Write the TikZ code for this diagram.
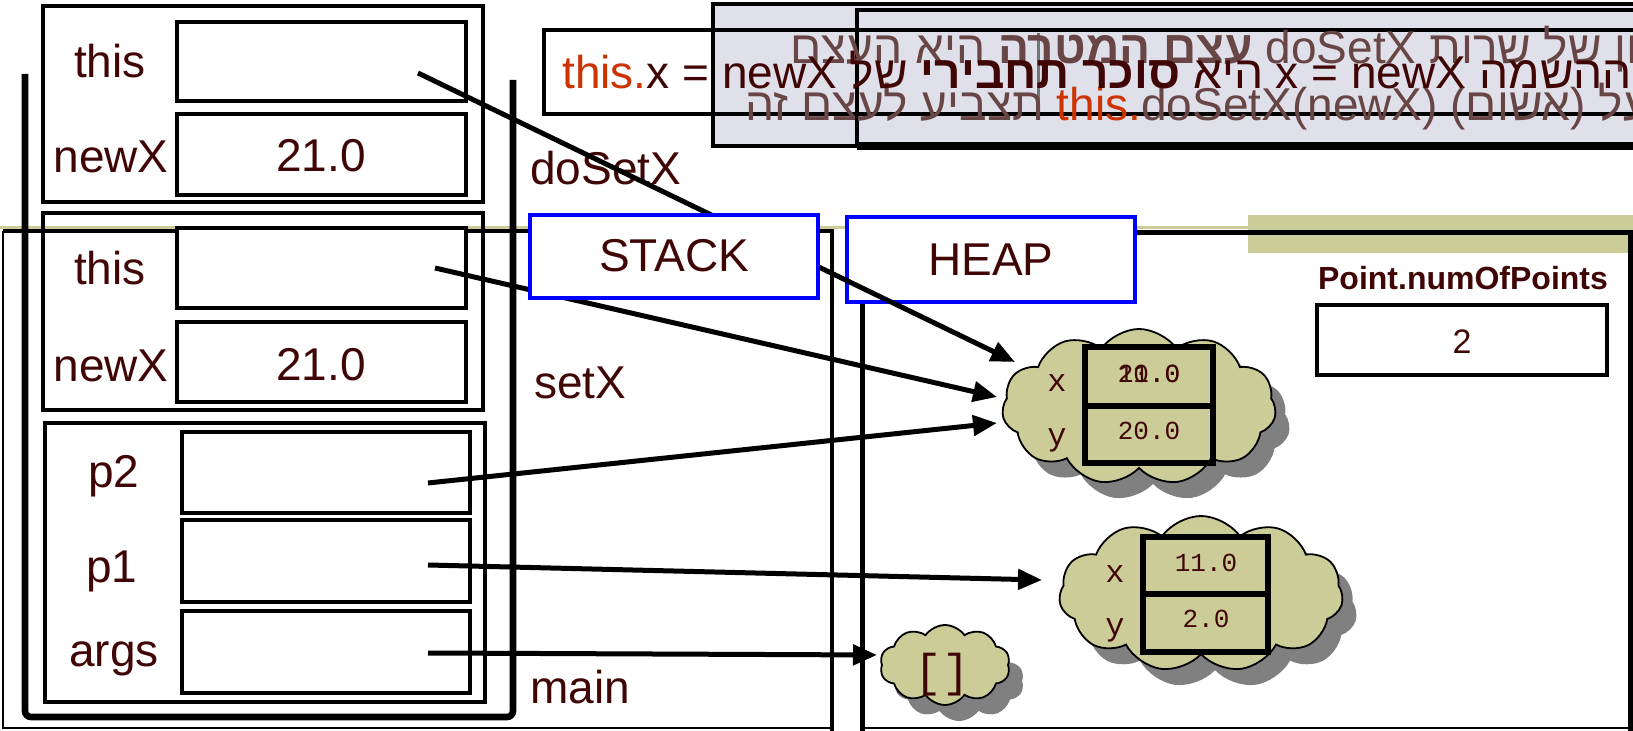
\documentclass[tikz,border=0pt]{standalone}
\usepackage{fontspec}
\setmainfont{Liberation Sans}
\newfontfamily\hebfont[Script=Hebrew]{Liberation Sans}
\newfontfamily\monofont{Liberation Mono}
\usetikzlibrary{shapes.symbols,arrows.meta,shadows}
\TeXXeTstate=1
\definecolor{txt}{RGB}{64,6,6}
\definecolor{fadetxt}{RGB}{105,70,70}
\definecolor{thisor}{RGB}{204,51,0}
\definecolor{lav}{RGB}{224,224,234}
\definecolor{olive0}{RGB}{204,204,153}
\definecolor{blue0}{RGB}{0,0,255}
\tikzset{
  lbl/.style={text=txt, font=\fontsize{23}{27}\selectfont, inner sep=0pt, anchor=base},
  vbox/.style={draw=black, line width=2pt, fill=white},
  frm/.style={draw=black, line width=1.6pt},
  ptr/.style={draw=black, line width=2.5pt, -{Triangle[length=12pt,width=10pt]}},
  titlebox/.style={draw=blue0, line width=2pt, fill=white},
  cloudst/.style={cloud, cloud puffs=11, cloud puff arc=110, aspect=1.8, draw=black, line width=0.9pt, fill=olive0, inner sep=0pt,
    drop shadow={shadow xshift=7pt, shadow yshift=-8pt, fill=black!50, opacity=1}},
  monolbl/.style={text=txt, font=\monofont\fontsize{16}{18}\selectfont, inner sep=0pt, anchor=base},
  monoval/.style={text=txt, font=\monofont\fontsize{13}{15}\selectfont, inner sep=0pt, anchor=base},
  toptext/.style={font=\hebfont\fontsize{23}{27}\selectfont, inner sep=0pt},
  tbl/.style={draw=black, line width=3pt},
}
\begin{document}
\begin{tikzpicture}[x=0.5pt,y=-0.5pt]
\clip (0,0) rectangle (1633,731);
\fill[white] (0,0) rectangle (1633,731);

% decorative olive line and band
\draw[olive0, line width=1.5pt] (0,228) -- (1633,228);
\fill[olive0] (1248,215) rectangle (1633,253);

% top callout boxes
\fill[white] (544,30) rectangle (713,114);
\draw[fill=lav, draw=black, line width=2pt] (713,4) rectangle (1660,146);
\draw[fill=lav, draw=black, line width=2pt] (857,10) rectangle (1660,146);
\draw[line width=4pt] (857,146) -- (1660,146);
\draw[line width=2pt] (544,30) rectangle (1660,114);
\draw[line width=1.5pt, draw=black!55] (1038,33) -- (1038,112);

\node[toptext, text=fadetxt, anchor=base west] (hl1) at (790,64)
  {\beginR בזימון של שרות \beginL doSetX\endL{} \textbf{עצם המטרה} היא העצם\endR};
\node[toptext, text=fadetxt, anchor=base west] (hl3) at (745,121)
  {\beginR עליו הופעל (אשום) \beginL\textcolor{thisor}{this.}doSetX(newX)\endL{} תצביע לעצם זה\endR};
\node[toptext, text=txt, anchor=base west] (hl2) at (562,89)
  {\beginR ההשמה \beginL x = newX\endL{} היא \textbf{סוכר תחבירי} של \beginL\textcolor{thisor}{this.}x = newX\endL\endR};

% stack and heap areas
\draw[line width=2pt] (3,231) -- (832,231) -- (832,735);
\draw[line width=1.2pt] (3,231) -- (3,728) -- (832,728);
\draw[line width=2.5pt] (862,302) -- (862,735);
\draw[line width=2.5pt] (1135,233) -- (1630,233) -- (1630,735);
\draw[line width=1.2pt] (862,728) -- (1630,728);

% frames
\draw[frm] (43,6) rectangle (483,202);
\draw[frm] (43,213) rectangle (483,410);
\draw[frm] (45,423) rectangle (485,702);

% value boxes
\draw[vbox] (177,22) rectangle (466,101);
\draw[vbox] (177,114) rectangle (466,195);
\draw[vbox] (177,228) rectangle (466,308);
\draw[vbox] (177,322) rectangle (466,402);
\draw[vbox] (182,432) rectangle (470,513);
\draw[vbox] (182,520) rectangle (470,602);
\draw[vbox] (182,611) rectangle (470,693);

% labels
\node[lbl] (l1) at (110,78) {this};
\node[lbl] (l2) at (111,173) {newX};
\node[lbl] (v2) at (321,172) {21.0};
\node[lbl] (l3) at (110,285) {this};
\node[lbl] (l4) at (111,382) {newX};
\node[lbl] (v4) at (321,381) {21.0};
\node[lbl] (l5) at (114,488) {p2};
\node[lbl] (l6) at (112,583) {p1};
\node[lbl] (l7) at (114,667) {args};
\node[lbl, anchor=base west] (fdo) at (530,185) {doSetX};
\node[lbl, anchor=base west] (fset) at (534,399) {setX};
\node[lbl, anchor=base west] (fmain) at (530,703) {main};

% U-shaped stack outline
\draw[line width=3.3pt, rounded corners=3pt] (25,74) -- (25,717) -- (513,717) -- (513,80);

% HEAP title box
\draw[titlebox] (847,217) rectangle (1135,302);
\node[lbl] (heapt) at (991,276) {HEAP};

% static field
\node[text=txt, font=\bfseries\fontsize{16}{19}\selectfont, inner sep=0pt, anchor=base] (pn) at (1463,290) {Point.numOfPoints};
\draw[vbox] (1317,305) rectangle (1607,375);
\node[text=txt, font=\fontsize{17}{20}\selectfont, inner sep=0pt, anchor=base] (pv) at (1462,354) {2};

% clouds
\node[cloudst, minimum width=137pt, minimum height=78pt] (cl1) at (1139,407) {};
\node[cloudst, minimum width=142pt, minimum height=78pt] (cl2) at (1201,594) {};
\node[cloudst, minimum width=65pt, minimum height=40pt, cloud puffs=10] (cl3) at (945,665) {};

\draw[tbl] (1085,347) rectangle (1213,463);
\draw[tbl] (1085,406) -- (1213,406);
\node[monolbl] (x1) at (1057,392) {x};
\node[monolbl] (y1) at (1057,446) {y};
\node[monoval] (v1a) at (1149,383) {10.0};
\node[monoval] (v1b) at (1149,383) {21.0};
\node[monoval] (v1c) at (1149,440) {20.0};

\draw[tbl] (1143,537) rectangle (1268,652);
\draw[tbl] (1143,594) -- (1268,594);
\node[monolbl] (x2) at (1115,582) {x};
\node[monolbl] (y2) at (1115,636) {y};
\node[monoval] (v2a) at (1206,572) {11.0};
\node[monoval] (v2b) at (1206,628) {2.0};

\node[text=txt, font=\monofont\fontsize{23}{26}\selectfont, inner sep=0pt, anchor=base] (arr) at (942,686) {[]};

% pointers
\coordinate (s1) at (418,73);
\coordinate (e1) at (1015,362);
\coordinate (s2) at (435,268);
\coordinate (e2) at (997,397);
\coordinate (s3) at (428,483);
\coordinate (e3) at (997,423);
\coordinate (s4) at (428,565);
\coordinate (e4) at (1042,580);
\coordinate (s5) at (428,653);
\coordinate (e5) at (877,655);
\draw[ptr] (s1) -- (e1);
\draw[ptr] (s2) -- (e2);
\draw[ptr] (s3) -- (e3);
\draw[ptr] (s4) -- (e4);
\draw[ptr] (s5) -- (e5);

% STACK title box (covers pointers)
\draw[titlebox] (530,215) rectangle (818,298);
\node[lbl] (stackt) at (674,272) {STACK};
\end{tikzpicture}
\end{document}
